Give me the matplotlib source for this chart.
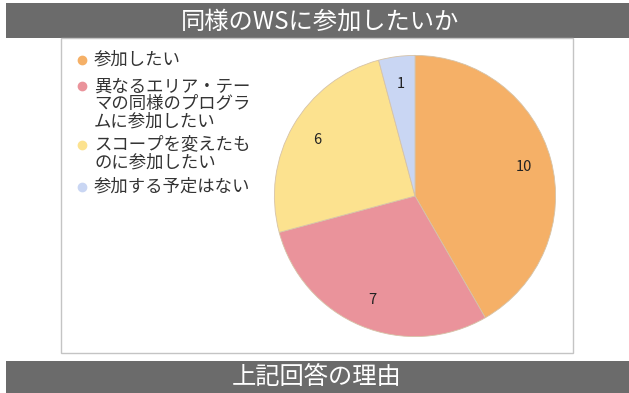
import matplotlib.pyplot as plt
from matplotlib.patches import Rectangle

plt.rcParams['font.family'] = ['Noto Sans CJK JP', 'DejaVu Sans']

# answers and counts
labels = ['参加したい', '異なるエリア・テー\nマの同様のプログラ\nムに参加したい',
          'スコープを変えたも\nのに参加したい', '参加する予定はない']
counts = [10, 7, 6, 1]
colors = ['#F5B067', '#EA939B', '#FCE28F', '#C9D6F3']

title = '同様のWSに参加したいか'
footer = '上記回答の理由'

W, H = 629, 393
fig = plt.figure(figsize=(W / 100, H / 100), dpi=100)
fig.patch.set_facecolor('white')

# background layer in pixel coordinates (origin top-left)
bg = fig.add_axes([0, 0, 1, 1], zorder=0)
bg.set_xlim(0, W)
bg.set_ylim(H, 0)
bg.axis('off')

# banners
bg.add_patch(Rectangle((6, 3), W - 6, 35, facecolor='#6B6B6B', edgecolor='none'))
bg.text(320, 22, title, color='white', fontsize=17.5, ha='center', va='center')
bg.add_patch(Rectangle((6, 361), W - 6, 32, facecolor='#6B6B6B', edgecolor='none'))
bg.text(317, 377, footer, color='white', fontsize=17.5, ha='center', va='center')

# chart frame
bg.add_patch(Rectangle((61, 38), 512, 315, facecolor='white',
                       edgecolor='#C4C4C4', linewidth=1))

# legend, one colored dot per answer
y = 60
for lab, c in zip(labels, colors):
    bg.plot(82, y, marker='o', markersize=6, color=c, linestyle='none')
    bg.text(94, y - 9, lab, fontsize=12.5, color='#333333', ha='left', va='top',
            linespacing=0.98)
    nlines = lab.count('\n') + 1
    y += 16 * nlines + 10.3

# pie
ax = fig.add_axes([273 / W, 1 - 338 / H, 284 / W, 284 / H], zorder=1)
wedges, texts = ax.pie(counts, colors=colors, startangle=90, counterclock=False,
                       labels=[str(c) for c in counts], labeldistance=0.8,
                       wedgeprops=dict(linewidth=0.6, edgecolor='#D6C3A8'),
                       textprops=dict(fontsize=10.5, color='#222222',
                                      ha='center', va='center'))
ax.set_xlim(-1.01, 1.01)
ax.set_ylim(-1.01, 1.01)
ax.set_aspect('equal')

fig.savefig('out.png', dpi=100)
